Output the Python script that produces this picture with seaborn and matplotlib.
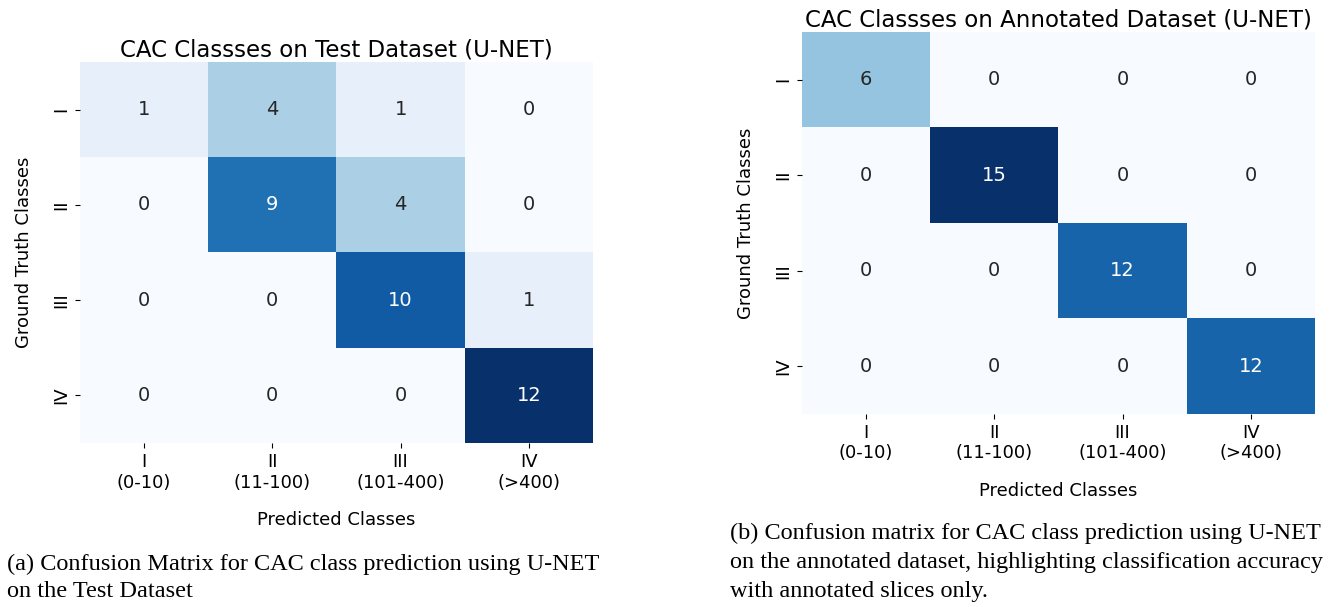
import numpy as np
import matplotlib
matplotlib.use("Agg")
import matplotlib.pyplot as plt
import seaborn as sns

# data
pred_labels = ["I\n(0-10)", "II\n(11-100)", "III\n(101-400)", "IV\n(>400)"]
true_labels = ["I", "II", "III", "IV"]

test_cm = [[1, 4, 1, 0],
           [0, 9, 4, 0],
           [0, 0, 10, 1],
           [0, 0, 0, 12]]

annot_cm = [[6, 0, 0, 0],
            [0, 15, 0, 0],
            [0, 0, 12, 0],
            [0, 0, 0, 12]]

title_a = "CAC Classses on Test Dataset (U-NET)"
title_b = "CAC Classses on Annotated Dataset (U-NET)"
caption_a = "(a) Confusion Matrix for CAC class prediction using U-NET\non the Test Dataset"
caption_b = ("(b) Confusion matrix for CAC class prediction using U-NET\n"
             "on the annotated dataset, highlighting classification accuracy\n"
             "with annotated slices only.")

plt.rcParams["font.family"] = ["DejaVu Sans"]

fig = plt.figure(figsize=(13.35, 6.07), dpi=100)
ax1 = fig.add_axes([0.0599, 0.2702, 0.3843, 0.6277])
ax2 = fig.add_axes([0.6007, 0.3180, 0.3843, 0.6293])

for ax, cm, title in [(ax1, test_cm, title_a), (ax2, annot_cm, title_b)]:
    sns.heatmap(np.array(cm), annot=True, fmt="d", cmap="Blues", cbar=False,
                xticklabels=pred_labels, yticklabels=true_labels,
                annot_kws={"size": 14}, ax=ax)
    ax.set_title(title, fontsize=16.5, pad=4)
    ax.set_xlabel("Predicted Classes", fontsize=13, labelpad=14)
    ax.set_ylabel("Ground Truth Classes", fontsize=13, labelpad=14)
    ax.tick_params(axis="both", labelsize=13)
    plt.setp(ax.get_xticklabels(), rotation=0)
    plt.setp(ax.get_yticklabels(), rotation=90, va="center")

fig.text(0.005, 0.087, caption_a, fontsize=17.5, family="Liberation Serif",
         ha="left", va="top", linespacing=1.35)
fig.text(0.547, 0.138, caption_b, fontsize=17.5, family="Liberation Serif",
         ha="left", va="top", linespacing=1.5)

fig.savefig("out.png", dpi=100)
